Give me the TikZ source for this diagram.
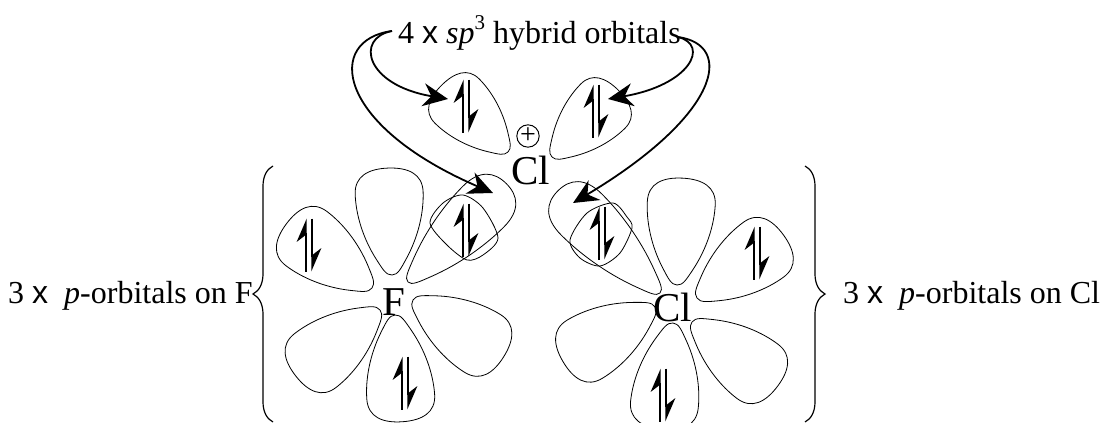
\documentclass[tikz,border=0pt]{standalone}
\usepackage{xcolor}
\usepackage{fontspec}
\setmainfont{Liberation Serif}
\newfontfamily\timesfont{Liberation Sans}
\usetikzlibrary{arrows.meta, decorations.pathreplacing}
\newcommand{\timessign}{{\timesfont x}}
\tikzset{
    orbitalline/.style={line width=0.8pt},
    hybridarrow/.style={line width=1.8pt, -{Stealth[length=25pt, width=23pt]}},
    spinarrow/.style={line width=2pt, -{Stealth[harpoon, length=21pt, width=18pt]}},
    bigbrace/.style={line width=1.2pt, decorate, decoration={brace, amplitude=20pt}},
    labeltext/.style={font=\fontsize{32}{36}\selectfont, inner sep=0pt},
    atomtext/.style={font=\fontsize{41}{44}\selectfont, inner sep=0pt},
    lobe/.pic={
        \draw[orbitalline] (0,0) .. controls (0,-6) and (6,-9) .. (16,-15)
            .. controls (38,-28) and (62,-34) .. (82,-34)
            .. controls (100,-34) and (107,-20) .. (107,0)
            .. controls (107,20) and (100,34) .. (82,34)
            .. controls (62,34) and (38,28) .. (16,15)
            .. controls (6,9) and (0,6) .. (0,0);
    },
    spinpair/.pic={
        \draw[spinarrow] (-3.3,26.5) -- (-3.3,-26.5);
        \draw[spinarrow] (3.3,-26.5) -- (3.3,26.5);
    }
}
\begin{document}
\begin{tikzpicture}[x=1pt, y=-1pt]
    \useasboundingbox (0,0) rectangle (1101,423);

    \node[labeltext, anchor=base west] (hybridlabel) at (398,43)
        {4 \timessign{} \textit{sp}\raisebox{0.42em}{\fontsize{21}{21}\selectfont 3} hybrid orbitals};
    \node[labeltext, anchor=base west] (leftlabel) at (8,303)
        {3 \timessign{}\ \ \textit{p}-orbitals on F};
    \node[labeltext, anchor=base west] (rightlabel) at (843,303)
        {3 \timessign{}\ \ \textit{p}-orbitals on Cl};

    \node[atomtext] (clcentre) at (531,170) {Cl};
    \node[atomtext] (fatom) at (394,302) {F};
    \node[atomtext] (clatom) at (673,307) {Cl};
    \node[circle, draw, line width=1pt, minimum size=21pt, inner sep=0pt,
          font=\fontsize{28}{28}\selectfont] (charge) at (528,136) {+};

    \pic[rotate=135, xscale=0.88, yscale=0.92] at (508,152) {lobe};
    \pic[rotate=45, xscale=0.88, yscale=0.92] at (552,157) {lobe};

    \pic[rotate=92] at (392,275) {lobe};
    \pic[rotate=143] at (372,288) {lobe};
    \pic[rotate=45, xscale=1.3, yscale=0.85] at (408,282) {lobe};
    \pic[rotate=-32] at (413,300) {lobe};
    \pic[rotate=-86] at (395,315) {lobe};
    \pic[rotate=218] at (380,310) {lobe};

    \pic[rotate=87] at (677,285) {lobe};
    \pic[rotate=36] at (697,298) {lobe};
    \pic[rotate=135, xscale=1.35, yscale=0.85] at (660,293) {lobe};
    \pic[rotate=-37] at (692,322) {lobe};
    \pic[rotate=-96] at (673,323) {lobe};
    \pic[rotate=211] at (655,307) {lobe};

    \draw[orbitalline] plot[smooth cycle] coordinates {(463,195) (483,208) (498,238) (483,255) (467,260) (447,245) (430,223) (443,203)};
    \draw[orbitalline] plot[smooth cycle] coordinates {(613,203) (627,217) (632,228) (620,253) (600,266) (580,258) (570,240) (587,213)};

    \pic at (466,106) {spinpair};
    \pic at (596,111) {spinpair};
    \pic at (309,245) {spinpair};
    \pic at (466,230) {spinpair};
    \pic at (405,383) {spinpair};
    \pic at (602,233) {spinpair};
    \pic at (757,253) {spinpair};
    \pic at (663,395) {spinpair};

    \coordinate (lefttop) at (448,99);
    \coordinate (leftbond) at (493,193);
    \coordinate (righttop) at (608,99);
    \coordinate (rightbond) at (573,203);
    \coordinate (labelleft) at (392,31);
    \coordinate (labelright) at (678,37);

    \draw[hybridarrow] (labelleft) .. controls (325,40) and (335,125) .. (leftbond);
    \draw[hybridarrow] (labelleft) .. controls (355,38) and (365,85) .. (lefttop);
    \draw[hybridarrow] (labelright) .. controls (710,45) and (690,85) .. (righttop);
    \draw[hybridarrow] (labelright) .. controls (735,45) and (720,115) .. (rightbond);

    \draw[bigbrace] (273,422) -- (273,166);
    \draw[bigbrace] (805,166) -- (805,422);
\end{tikzpicture}
\end{document}
